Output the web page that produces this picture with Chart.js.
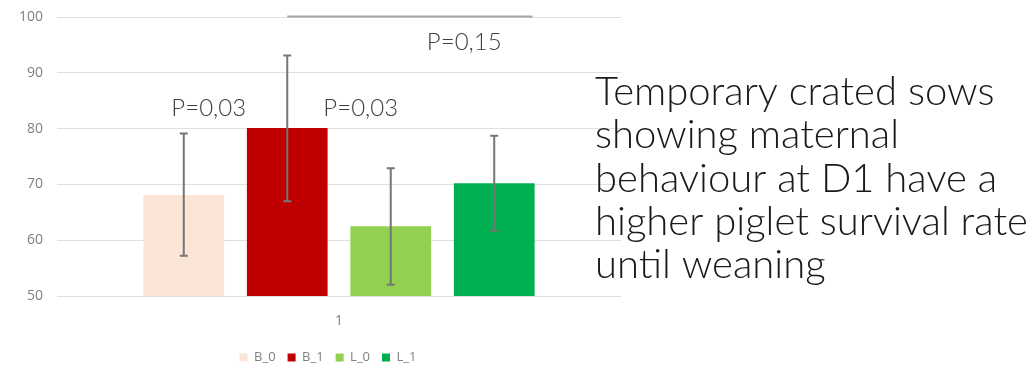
<!DOCTYPE html>
<html>
<head>
<meta charset="utf-8">
<script src="https://cdn.jsdelivr.net/npm/chart.js@4.4.1/dist/chart.umd.min.js"></script>
<style>
  html, body { margin: 0; padding: 0; background: #fff; overflow: hidden; }
  #wrap { width: 1035px; height: 374px; position: relative; }
</style>
</head>
<body>
<div id="wrap"><canvas id="canvas"></canvas></div>
<script>
const categories = ['1'];
const seriesNames = ['B_0', 'B_1', 'L_0', 'L_1'];
const means = [68.1, 80.1, 62.5, 70.2];
const errLow = [57.2, 67.0, 52.0, 61.7];
const errHigh = [79.1, 93.1, 72.9, 78.7];
const barColors = ['#FBE5D6', '#C00000', '#92D050', '#00B050'];
const yMin = 50;
const yMax = 100;
const yStep = 10;

// p-value notes: text, bar it sits next to, value height
const pTexts = ['P=0,03', 'P=0,03', 'P=0,15'];
const pBars = [0, 2, 3];
const pValues = [83.7, 83.6, 95.5];
const bracketValue = 100;

const noteLines = [
  'Temporary crated sows',
  'showing maternal',
  'behaviour at D1 have a',
  'higher piglet survival rate',
  'until weaning'
];

const errorBars = {
  id: 'errorBars',
  afterDatasetsDraw(chart) {
    const ctx = chart.ctx;
    const y = chart.scales.y;
    ctx.save();
    ctx.strokeStyle = '#767676';
    ctx.lineWidth = 2;
    chart.data.datasets.forEach((ds, i) => {
      const bar = chart.getDatasetMeta(i).data[0];
      const top = y.getPixelForValue(errHigh[i]);
      const bot = y.getPixelForValue(errLow[i]);
      ctx.beginPath();
      ctx.moveTo(bar.x, top);
      ctx.lineTo(bar.x, bot);
      ctx.moveTo(bar.x - 4, top);
      ctx.lineTo(bar.x + 4, top);
      ctx.moveTo(bar.x - 4, bot);
      ctx.lineTo(bar.x + 4, bot);
      ctx.stroke();
    });
    ctx.restore();
  }
};

const notes = {
  id: 'notes',
  afterLayout(chart) {
    // nudge the legend a little to the right, as in the original
    chart.legend.left += 8;
    chart.legend.right += 8;
  },
  afterDraw(chart) {
    const ctx = chart.ctx;
    const y = chart.scales.y;
    const bars = chart.data.datasets.map((d, i) => chart.getDatasetMeta(i).data[0]);
    ctx.save();

    // bracket over B_1 .. L_1
    ctx.strokeStyle = '#a6a6a6';
    ctx.lineWidth = 2;
    const by = y.getPixelForValue(bracketValue) - 0.5;
    ctx.beginPath();
    ctx.moveTo(bars[1].x, by);
    ctx.lineTo(bars[3].x + bars[3].width / 2 - 2, by);
    ctx.stroke();

    // p-values
    const dx = [25, -30, -30];
    ctx.fillStyle = '#404040';
    ctx.font = '300 24px Lato';
    ctx.textAlign = 'center';
    ctx.textBaseline = 'middle';
    pTexts.forEach((t, i) => {
      ctx.fillText(t, bars[pBars[i]].x + dx[i], y.getPixelForValue(pValues[i]));
    });

    // side text
    ctx.fillStyle = '#1a1a1a';
    ctx.textAlign = 'left';
    ctx.textBaseline = 'alphabetic';
    let size = 40;
    ctx.font = '300 ' + size + 'px Lato';
    const widest = Math.max(...noteLines.map(l => ctx.measureText(l).width));
    size = size * 433 / widest;
    ctx.font = '300 ' + size.toFixed(1) + 'px Lato';
    noteLines.forEach((l, i) => {
      ctx.fillText(l, 595, 105 + i * 43.3);
    });
    ctx.restore();
  }
};

const config = {
  type: 'bar',
  data: {
    labels: categories,
    datasets: seriesNames.map((name, i) => ({
      label: name,
      data: [means[i]],
      backgroundColor: barColors[i],
      borderWidth: 0,
      barPercentage: 0.78,
      categoryPercentage: 0.734
    }))
  },
  options: {
    responsive: true,
    maintainAspectRatio: false,
    animation: false,
    layout: {
      padding: { left: 19, right: 414, top: 17, bottom: 0 }
    },
    plugins: {
      legend: {
        position: 'bottom',
        labels: {
          boxWidth: 8,
          boxHeight: 8,
          padding: 12,
          color: '#7f7f7f',
          font: { family: 'Open Sans', size: 13 }
        }
      },
      tooltip: { enabled: false }
    },
    scales: {
      x: {
        grid: { display: false, drawTicks: false },
        border: { display: false },
        ticks: {
          color: '#7f7f7f',
          padding: 17,
          font: { family: 'Open Sans', size: 14 }
        },
        afterFit(scale) { scale.height = 43; }
      },
      y: {
        min: yMin,
        max: yMax,
        border: { display: false },
        grid: { color: '#e0e0e0', lineWidth: 1, drawTicks: false },
        ticks: {
          stepSize: yStep,
          color: '#7f7f7f',
          padding: 14,
          font: { family: 'Open Sans', size: 14 }
        },
        afterFit(scale) {
          // fixed axis width; tick padding should not push the plot down
          scale.width = 38;
          scale.paddingTop = 8;
          scale.paddingBottom = 8;
        }
      }
    }
  },
  plugins: [errorBars, notes]
};

const ctx = document.getElementById('canvas').getContext('2d');
window.myBar = new Chart(ctx, config);
</script>
</body>
</html>
